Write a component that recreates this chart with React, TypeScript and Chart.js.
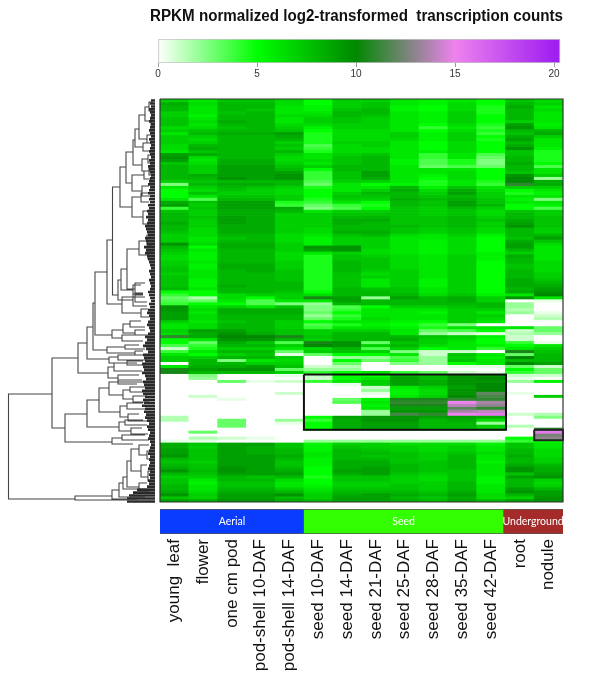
import React, { useEffect, useRef } from "react";
import { Chart, registerables } from "chart.js";

Chart.register(...registerables);

const titleText = "RPKM normalized log2-transformed  transcription counts";
const columnLabels = [
  "young  leaf", "flower", "one cm pod", "pod-shell 10-DAF", "pod-shell 14-DAF",
  "seed 10-DAF", "seed 14-DAF", "seed 21-DAF", "seed 25-DAF", "seed 28-DAF",
  "seed 35-DAF", "seed 42-DAF", "root", "nodule",
];
const groupNames = ["Aerial", "Seed", "Underground"];
const groupSpans = [5, 6.92, 2.08];
const groupColors = ["#0a3cff", "#33ff00", "#a52a2a"];
const legendTicks = [0, 5, 10, 15, 20];

const rampValues = [0, 5, 10, 15, 20];
const rampColors = [
  [255, 255, 255], [0, 255, 0], [0, 136, 0], [238, 130, 238], [160, 32, 240],
];

const heatRows: number[][] = [
  [7,6,7.5,7.5,6.5,5,7,7,6,5.5,6,5,7.5,6.5],
  [8.5,6.5,8,8,6.5,5,7,7.5,6,5.5,6.5,5,8,7],
  [8,6,8,8,6,5.5,7,7.5,5.5,5,6.5,4.5,8.5,6],
  [8,6,8,7.5,6,5.5,7.5,8,5.5,5,6.5,4.5,8,6.5],
  [7,6,7.5,8,6,6,8,8,6,5.5,7,4.5,8,6],
  [7,5.5,8,8,6.5,6.5,8,7.5,6,5.5,7,5,8,6],
  [7.5,6,8,8,6,7,7.5,7,6,5.5,7,5,8,6],
  [7.5,6.5,8.5,8,6,7,7.5,7,6,5.5,7,5,7,6],
  [7.5,6,8,8,6.5,6.5,7,7,6,5,6.5,4.5,9,5.5],
  [6.5,6.5,7.5,8,7,5.5,7,7,6,4,6,4,9.5,6],
  [7,7.5,8,8,7.5,5,6.5,6.5,6,5,6.5,4.5,8,8],
  [6,8,8.5,8.5,9,4.5,6.5,6.5,7,5.5,7,4,7.5,8.5],
  [7,7,8,8,8.5,4.5,6.5,6.5,7,5.5,7,5,8.5,7],
  [7,6.5,8,8,8,4.5,6.5,6.5,6.5,5.5,7,4.5,9,6],
  [7,7,8,8,7,4.5,7,7,6,5,6.5,5,8,6],
  [6.5,8,8,8,7.5,3.5,6.5,7,6,5,6.5,5,8.5,6],
  [6.5,8.5,8,8,7,4,6.5,6.5,6,5,6.5,5,9.5,5.5],
  [6,7.5,8,8,8,4.5,6.5,6.5,6,5.5,6.5,5,7.5,4.5],
  [9,8.5,8,8,7,6,7,7.5,6,4,6,3.5,7.5,4.5],
  [9.5,6.5,8,8,6.5,6,7.5,8,6,4,6,3,8,4.5],
  [9,6,8.5,8.5,6.5,6.5,7.5,8,5.5,3.5,4.5,2.5,8,4.5],
  [7.5,6.5,8.5,8.5,7,6,7.5,8,5.5,3.5,4.5,2.5,8.5,5],
  [8,7,9,9,7.5,7,8,8,6,3,3.5,3,8,3.5],
  [8,7,9,9,8,5,8,8,6,6,6,5,8,6],
  [8,7,9,9,9,4,7.5,9,6,6,6.5,5,7.5,6],
  [8,8.5,9,9,9.5,4,7.5,9,6,5.5,6.5,5,9.5,7],
  [8,8,9.5,9,9.5,4,7.5,8.5,6,5,6.5,5,10,2],
  [7,7.5,8,8,8,3.5,7,7,6,4.5,6,4.5,10,8.5],
  [2.5,8,8.5,8.5,8,3,6,5,5.5,4.5,6,4,11,8.5],
  [6,7,8,7.5,7,4.5,6,6,8,5.5,7.5,6,7,7],
  [5,6.5,7.5,7,6.5,5,6,7,8.5,6.5,8.5,6.5,5,6],
  [5,7.5,7,7,6.5,5,7,8,8,7,9,7,4.5,5.5],
  [5,6,7.5,7.5,7,5,7.5,7.5,8,7.5,8,7,6,6],
  [6,3.5,8,8,7,4.5,7,7,8.5,8,8.5,7.5,5.5,2.5],
  [8.5,7.5,9,9,4.5,4,6,5,8,7.5,9,7.5,6,6],
  [9,7,9,9,4,3,4,4.5,8,7.5,9,8,5,5.5],
  [4,7.5,9,9,8.5,2.5,3.5,5,7.5,7,8,7,5,3.5],
  [7.5,7,8.5,8.5,8,6,7,7,7.5,7,7.5,6.5,7.5,7],
  [8,7,8.5,8.5,7,7,7.5,7.5,7.5,7,7.5,6.5,8,7],
  [8,7.5,9,8.5,7,7,8,8,7.5,7.5,8,7,8,7.5],
  [8,7,9,8.5,7,7,8.5,8.5,7.5,7.5,8,7.5,8.5,7.5],
  [8.5,7,9,8.5,7,7,8.5,8,7.5,7.5,8,7,9,7.5],
  [8,7,8.5,8.5,7,7,8,8,8,7.5,8,7,9.5,7.5],
  [8,6.5,8.5,8.5,7,6.5,8,8,7.5,7,7.5,6.5,8,7],
  [7.5,6.5,8.5,8.5,7,6.5,8.5,8.5,7.5,7,7.5,6.5,8,7],
  [7,6.5,8,8,6.5,6,7.5,8,6.5,6,7,5.5,8,8],
  [7,6,7.5,8,6.5,5.5,7,7,6,6,6.5,5,7.5,9],
  [7,6,8,8,6.5,5.5,7,7,6,5.5,6.5,5,8.5,7.5],
  [9.5,6.5,8.5,8.5,7,5.5,7,7,6,5.5,6.5,5,9,6.5],
  [8,5,8.5,8.5,7,9.5,9.5,7,6,5.5,6.5,5,9,6],
  [7.5,6,8,8,7,9,9.5,6.5,6,5.5,6.5,5,8,6],
  [7,5.5,8,8,6.5,6,7,6.5,6,5.5,6.5,5.5,7,6],
  [6.5,5.5,8,8,6.5,4.5,7.5,7,6.5,6,7,5.5,8.5,6],
  [6.5,5.5,8,8,6.5,4.5,7.5,7.5,6.5,6,7,5.5,8,6],
  [7,6,8,8,7,4.5,8,7.5,6.5,6,7,5,8,6.5],
  [7,5.5,8.5,8.5,7,4.5,8,7.5,6.5,6,7,5,7.5,6.5],
  [7.5,5.5,8.5,8.5,7,4.5,8,7.5,6.5,6,7,5,7.5,6.5],
  [7.5,6,8,8.5,7.5,4.5,8,7,7,6,7,5,8,6.5],
  [7,6,8,8,7.5,4.5,7.5,6.5,7,6,7,5,8,7],
  [7.5,6,8,8,7.5,4.5,7.5,7,7,6,7,5,8,7],
  [7.5,5.5,8,8,7.5,4.5,7.5,6,7,5.5,7,5,8.5,7.5],
  [7.5,5.5,8,8,8,4.5,7.5,6,7,5.5,7,5,8.5,8],
  [7.5,5.5,8.5,8,8,4.5,7.5,6,7,5.5,7,5,8.5,8.5],
  [8,6,8,8,8,4.5,8,7.5,7.5,6,7,5,8,9],
  [5,5,8,8,7.5,5,8,8,7.5,6,7,5,8.5,9.5],
  [4,5,6.5,7,7,6.5,8,8,8,6.5,7.5,5.5,6,10],
  [3,1.5,6.5,5,7,10.5,9,2,9,8,8.5,7,9.5,6],
  [3.5,3,6,3.5,6,6,9,8,8,8,8.5,7,0,0.5],
  [4,5,5,3.5,2.5,2,8,8,8,8,8,8,2,0],
  [9.5,6,7,6,7.5,2.5,3.5,5,7,7,7.5,8,2,0],
  [9.5,6.5,8.5,8.5,8.5,2.5,4,6,6,6,7,7,1.5,0],
  [9,6,8.5,8.5,8.5,3,5,6,6,5.5,7,6,2,0.5],
  [9,6.5,8,8,8,2,4,6,6,6,7,7,0,1],
  [9,6.5,8,8,8,3,4.5,6.5,6,6,7,6.5,0,1.5],
  [7,6,7.5,8,7,5,6,6,5.5,5,7,6,0,0],
  [6,6.5,8,8,7,3.5,4.5,5.5,5,4,2.5,0,0,0],
  [6,6.5,8,8,7,4,6,6,5.5,4.5,6,6,6,3],
  [7,9,9,8,7.5,7,7,7,6,3,3.5,5,1,3],
  [6.5,8.5,9.5,8.5,7.5,7,8,8,6,2,1,0.5,1.5,2],
  [11,8.5,10,10,10.5,7.5,8,8,8,7.5,7,5.5,1,0],
  [5,6,9.5,9.5,8,7,8,8,8.5,7,6.5,5,1,0],
  [5,3,8.5,7.5,3.5,10.5,9.5,3,7.5,7,6,5,4,0.5],
  [3.5,4,8,8,7,10,9.5,7,8,6.5,6,5.5,5,6],
  [1,4.5,7,7,6,6.5,8,3.5,7,5,6,4,6,7],
  [4,6,8,8,3,7,7.5,7,2.5,1,1,0,10.5,7.5],
  [6,5,7,7.5,0.5,3,5,5,6,1,7.5,6,3,8],
  [7,7,8,8,7,0,2,2,3.5,2,7,5.5,10,8],
  [7,8,2.5,6,6.5,0,5,3,4,2,7.5,6,8,8],
  [0,8,8,7,7,0,3,0,2.5,2,5,6,10,9],
  [6,8.5,8.5,9,7.5,1,1.5,0,0,0,0.5,0.5,3,1],
  [10.5,9,9.5,9.5,3,2,2,0,0,0,0,0,5,3],
  [10.5,8,8,8,7,4,5,6,4,3,1,0.5,4,3],
  [0,2.5,0,0,0.5,1,5,5,8.5,8,9.5,9.5,1,1],
  [0,2,0,0,0,1,5,6,9,8,9.5,10,0.5,0],
  [0,0,3,0.5,1,4,6,7,9,8.5,9.5,9.5,2,5.5],
  [0,0,0,0,0,0,0.5,7,9,8.5,9.5,10,0,0],
  [0,0,0,0,0,0,0,1,6,7,9,10,0,0],
  [0,0,0,0,0,0,0,2,5.5,6.5,9.5,10,0,0],
  [0,0,0,0,1,0,0,0.5,5.5,6.5,9.5,12,0.5,0],
  [0,1,0,0,0,0,0,0,6,7,10,11.5,0,7],
  [0,0,0.5,0,0,0,3,5.5,10.5,10.5,11,11,0,0],
  [0,0,0,0,0,0,3.5,6,11,11,15,13.5,0,0],
  [0,0,0,0,0,0,0,5.5,10.5,10.5,14,13,0,0],
  [0,0,0,0,0,0,0,6,9,9,12,11,0,0],
  [0,0,0,0,0,0,0,2,9.5,9.5,13.5,14,0,0],
  [0,0,0,0,0,0,0,2,11.5,11,15,15.5,1,1.5],
  [1.5,0,0,0,0,5,9,9.5,9.5,9,9,8.5,0,2.5],
  [1.5,0,3,0,2,4,8.5,9.5,9.5,8,8.5,6.5,0,0],
  [0,0,3,0,0.5,5,8.5,9,9,8,8,2,0,0],
  [0,0,3,0,0,5,8.5,9,9,8,8,7,1.5,0],
  [0,0,0,0,0,5,8.5,9,9,8,8,7,0,11],
  [0,3,0,0,0,0,0,0,0,0,0,0,0,15.5],
  [0,0,0,0,0,0,0,0,0,0,0,0,0,12.5],
  [0,1.5,1,0.5,0,0,0,0,0,0,0,0,5,13],
  [0.5,0.5,0,0,0,2,2,2,2,2,2,2,4,5],
  [8.5,7.5,9,9,7.5,5.5,7,7,6.5,6.5,6.5,5.5,7.5,6],
  [8.5,7,9,8.5,7.5,5.5,7.5,7,7,6.5,7,6,7.5,6],
  [9,7.5,9,8.5,8,5.5,8,7.5,7,6.5,7,6,8,6.5],
  [9,7.5,9,8.5,8,6,8,8,7.5,7,7.5,6.5,8,6.5],
  [9.5,7.5,9,9,8.5,6,8,7.5,7.5,7,8,6,8.5,6.5],
  [8,7.5,9,9,8,5.5,8,8,7.5,7,8,6,8,7],
  [7.5,7,9,9,7.5,5.5,8.5,8.5,7.5,7.5,8,5.5,8,7],
  [8,7.5,9,9,7.5,5.5,8.5,8.5,8,7.5,8,6,8.5,8],
  [8.5,7.5,9.5,9,8,5,8.5,9,8,7.5,8,6,9.5,8.5],
  [9.5,8,9.5,9,8.5,5,9,9,8,7.5,7.5,6,9.5,8.5],
  [8,7.5,9,9,9,5,8.5,9,7.5,7,7.5,6,7.5,9],
  [7,7,8,7.5,8,4.5,7.5,7.5,7,6.5,7.5,5.5,9,9.5],
  [7.5,6,8,8,6.5,5,7.5,7.5,7,6.5,7.5,5.5,8,7],
  [7.5,5.5,7.5,7.5,6,5,7,7,7,7,8,5.5,8,6.5],
  [8,6,7.5,7.5,6,5.5,7,7,7.5,7,8,6,8,7],
  [8,6,8,8,7,6,7.5,7.5,7.5,7,8,6,9,8],
  [8.5,6.5,8.5,8.5,8,6.5,8,8,8,7.5,8.5,6,9.5,9],
  [9.5,7,9,9,9.5,7,8.5,9,8.5,8,9,6.5,8,9],
  [7.5,7,9,9,8,7,9,9,8,7.5,8.5,6.5,7,9.5],
  [9,8.5,9.5,9.5,8.5,8,9,9,8.5,8,9,8,9,9.5],
];

// rectangles outlined on the heatmap, in column / row units: [left, right, top, bottom]
const heatFrame = [0, 14, 0, 135];
const seedBox = [5, 12.02, 92.3, 110.8];
const noduleBox = [13, 14, 110.8, 114.3];

// dendrogram merges: [height, topLeaf, bottomLeaf, topChildHeight, bottomChildHeight]
const dendroMerges: number[][] = [
  [148.5,295,400,105,82],
  [105,259,329,79,92],
  [92,315,343,70,45],
  [70,301,328,58,38],
  [58,289,313,48,37],
  [48,283,296,39,34],
  [39,281,285,15,20],
  [34,291,300,27,24],
  [27,288,293,12,14],
  [24,297,303,10,8],
  [37,307,318,30,29],
  [30,304,310,14,12],
  [29,315,322,18,8],
  [38,323,332,32,26],
  [32,321,326,14,10],
  [26,329,335,15,9],
  [45,339,345,35,24],
  [35,336,341,12,8],
  [79,244,274,70,49],
  [49,268,279,43,39],
  [43,264,272,20,15],
  [39,276,283,18,9],
  [70,228,260,64,48],
  [48,258,264,39,30],
  [39,256,261,16,10],
  [30,262,266,14,12],
  [64,204,251,62,50],
  [50,248,254,32,22],
  [32,246,250,18,12],
  [22,252,256,14,10],
  [62,173,236,50,45],
  [45,231,239,34,35],
  [34,225,234,27,22],
  [27,222,228,16,12],
  [22,231,236,12,9],
  [35,236,242,18,14],
  [50,141,205,44.5,35],
  [35,198,214,22,16],
  [22,194,203,14,10],
  [16,210,218,9,8],
  [44.5,88,196,37,39],
  [37,68,108,31,25],
  [31,53,84,24,25],
  [24,41,66,22,15],
  [22,30,48,18,14],
  [18,16,40,12,10],
  [12,8,22,8,6],
  [8,3,12,4,4],
  [6,18,26,4,3],
  [10,36,44,6,5],
  [14,44,52,7,6],
  [15,60,72,9,8],
  [9,56,64,4,5],
  [8,68,76,4,4],
  [25,76,92,13,15],
  [13,72,80,6,5],
  [15,87,97,8,7],
  [25,98,118,16,14],
  [16,94,103,7,8],
  [14,112,125,8,8],
  [39,181,201,36,24],
  [36,170,191,30,24],
  [30,150,190,18,22],
  [18,142,156,10,9],
  [10,136,146,6,5],
  [9,152,160,4,5],
  [22,184,196,12,14],
  [24,186,198,16,12],
  [24,195,207,14,10],
  [82,397,401,45,30],
  [45,391,400,38,20],
  [38,384,398,34,12],
  [34,378,390,30,20],
  [30,362,388,26,18],
  [26,350,372,18,16],
  [18,346,356,8,10],
  [10,352,360,5,6],
  [16,366,378,10,9],
  [9,372,382,5,4],
  [18,384,392,10,8],
];

// how far each leaf reaches from the heatmap edge, one per row
const leafReach = [
  6,7,6,8,7,6,7,8,6,7,8,7,6,8,7,6,7,8,7,6,
  8,7,9,8,7,6,7,8,9,7,8,9,7,8,7,9,8,10,9,11,
  9,10,12,11,10,9,12,11,10,13,11,12,10,9,8,7,6,8,7,6,
  8,7,6,7,9,8,7,6,8,7,9,10,8,7,9,10,8,7,9,12,
  10,12,14,11,9,14,13,12,15,14,13,15,12,11,14,13,12,15,14,12,
  14,13,15,12,13,11,12,10,8,10,9,7,8,9,7,6,7,8,9,7,
  8,7,8,9,7,8,7,9,8,10,20,24,28,30,30,
];

const legendStart = -0.404;
const legendBarEnd = 20.3;
const legendEnd = 20.45;

function valueColor(v: number): string {
  for (let i = 1; i < rampValues.length; i++) {
    if (v <= rampValues[i]) {
      const t = (v - rampValues[i - 1]) / (rampValues[i] - rampValues[i - 1]);
      const c = rampColors[i].map((hi, k) => Math.round(rampColors[i - 1][k] + (hi - rampColors[i - 1][k]) * t));
      return `rgb(${c[0]},${c[1]},${c[2]})`;
    }
  }
  const l = rampColors[rampColors.length - 1];
  return `rgb(${l[0]},${l[1]},${l[2]})`;
}

function outline(b: number[]) {
  return [
    { x: b[0], y: b[2] }, { x: b[1], y: b[2] }, { x: b[1], y: b[3] },
    { x: b[0], y: b[3] }, { x: b[0], y: b[2] },
  ];
}

const FONT = "'Liberation Sans', Arial, sans-serif";

function canvasStyle(left: number, top: number): React.CSSProperties {
  return { position: "absolute", left, top, display: "block" };
}

const App = () => {
  const legendRef = useRef<HTMLCanvasElement>(null);
  const dendroRef = useRef<HTMLCanvasElement>(null);
  const heatRef = useRef<HTMLCanvasElement>(null);
  const boxRef = useRef<HTMLCanvasElement>(null);
  const groupRef = useRef<HTMLCanvasElement>(null);

  useEffect(() => {
    const charts: Chart[] = [];

    charts.push(new Chart(legendRef.current!, {
      type: "bar",
      data: {
        labels: ["scale"],
        datasets: [{
          data: [[0, legendBarEnd]],
          borderColor: "#c4c4c4",
          borderWidth: 1,
          borderSkipped: false,
          barPercentage: 1,
          categoryPercentage: 1,
          backgroundColor: (ctx: any) => {
            const { chart } = ctx;
            if (!chart.chartArea) return "#00ff00";
            const sx = chart.scales.x;
            const g = chart.ctx.createLinearGradient(sx.getPixelForValue(0), 0, sx.getPixelForValue(legendBarEnd), 0);
            rampValues.forEach((v) => g.addColorStop(v / legendBarEnd, valueColor(v)));
            g.addColorStop(1, valueColor(20));
            return g;
          },
        }],
      } as any,
      options: {
        animation: false,
        responsive: false,
        indexAxis: "y",
        layout: { padding: 0 },
        scales: {
          x: {
            type: "linear", min: legendStart, max: legendEnd, bounds: "data",
            border: { display: false },
            grid: { drawOnChartArea: false, tickLength: 4, color: "#999" },
            afterBuildTicks: (s: any) => { s.ticks = legendTicks.map((value) => ({ value })); },
            ticks: { padding: 1, color: "#333", font: { family: FONT, size: 10 }, maxRotation: 0 },
            afterFit: (s: any) => { s.height = 22; s.paddingLeft = 0; s.paddingRight = 0; },
          },
          y: { display: false },
        },
        plugins: {
          legend: { display: false },
          tooltip: { enabled: false },
          title: {
            display: true, text: titleText, color: "#111",
            font: { family: FONT, size: 15.6, weight: "bold" },
            padding: { top: 7, bottom: 13.3 },
          },
        },
      } as any,
    }));

    const dendroPoints: any[] = [];
    dendroMerges.forEach(([h, top, bot, ht, hb]) => {
      dendroPoints.push({ x: ht, y: top }, { x: h, y: top }, { x: h, y: bot }, { x: hb, y: bot }, { x: NaN, y: NaN });
    });
    const leafPoints: any[] = [];
    leafReach.forEach((reach, i) => {
      const p = (i + 0.5) * (404 / leafReach.length);
      leafPoints.push({ x: 2, y: p }, { x: reach, y: p }, { x: NaN, y: NaN });
    });

    charts.push(new Chart(dendroRef.current!, {
      type: "scatter",
      data: {
        datasets: [
          { data: leafPoints, showLine: true, pointRadius: 0, borderColor: "#2a2a2a", borderWidth: 2.7 },
          { data: dendroPoints, showLine: true, pointRadius: 0, borderColor: "#454545", borderWidth: 1.1 },
        ],
      },
      options: {
        animation: false,
        responsive: false,
        layout: { padding: 0 },
        scales: {
          x: { type: "linear", reverse: true, min: 2, max: 157, display: false },
          y: { type: "linear", reverse: true, min: 0, max: 404, display: false },
        },
        plugins: { legend: { display: false }, tooltip: { enabled: false } },
      } as any,
    }));

    charts.push(new Chart(heatRef.current!, {
      type: "bar",
      data: {
        labels: columnLabels,
        datasets: heatRows.map((row) => ({
          data: row.map(() => 1),
          backgroundColor: row.map(valueColor),
          barPercentage: 1,
          categoryPercentage: 1,
          borderWidth: 0,
        })),
      },
      options: {
        animation: false,
        responsive: false,
        layout: { padding: 0 },
        scales: {
          x: { type: "category", stacked: true, display: false },
          y: { type: "linear", stacked: true, reverse: true, min: 0, max: heatRows.length, display: false },
        },
        plugins: { legend: { display: false }, tooltip: { enabled: false } },
      } as any,
    }));

    const boxDataset = (b: number[], color: string, width: number) => ({
      data: outline(b),
      showLine: true,
      pointRadius: 0,
      borderColor: color,
      borderWidth: width,
      clip: false,
    });
    charts.push(new Chart(boxRef.current!, {
      type: "scatter",
      data: {
        datasets: [
          boxDataset(heatFrame, "#333", 1.2),
          boxDataset(seedBox, "#111", 2),
          boxDataset(noduleBox, "#222", 2),
        ],
      },
      options: {
        animation: false,
        responsive: false,
        layout: { padding: 2 },
        scales: {
          x: { type: "linear", min: 0, max: 14, display: false },
          y: { type: "linear", reverse: true, min: 0, max: heatRows.length, display: false },
        },
        plugins: { legend: { display: false }, tooltip: { enabled: false } },
      } as any,
    }));

    const groupLabelPlugin = {
      id: "groupLabels",
      afterDatasetsDraw(chart: any) {
        const { ctx } = chart;
        ctx.save();
        ctx.fillStyle = "#fff";
        ctx.font = "10.5px Lato, sans-serif";
        ctx.textAlign = "center";
        ctx.textBaseline = "middle";
        chart.data.datasets.forEach((ds: any, i: number) => {
          const el = chart.getDatasetMeta(i).data[0];
          ctx.fillText(ds.label, (el.x + el.base) / 2, el.y);
        });
        ctx.restore();
      },
    };

    charts.push(new Chart(groupRef.current!, {
      type: "bar",
      data: {
        labels: ["groups"],
        datasets: groupNames.map((name, i) => ({
          label: name,
          data: [groupSpans[i]],
          backgroundColor: groupColors[i],
          borderColor: "#555",
          borderWidth: { top: 1, bottom: 1, left: 0, right: 0 },
          borderSkipped: false,
          barPercentage: 1,
          categoryPercentage: 1,
          xAxisID: "xGroup",
        })),
      },
      options: {
        animation: false,
        responsive: false,
        indexAxis: "y",
        layout: { padding: 0 },
        scales: {
          xGroup: { type: "linear", stacked: true, min: 0, max: 14, display: false },
          x: {
            type: "category", labels: columnLabels, offset: true, position: "bottom",
            border: { display: false },
            grid: { display: false, drawTicks: false, tickLength: 0 },
            ticks: {
              autoSkip: false, minRotation: 90, maxRotation: 90, padding: 5,
              color: "#111", font: { family: FONT, size: 17 },
            },
            afterFit: (s: any) => { s.height = 148; s.paddingLeft = 0; s.paddingRight = 0; },
          },
          y: { stacked: true, display: false },
        },
        plugins: { legend: { display: false }, tooltip: { enabled: false } },
      } as any,
      plugins: [groupLabelPlugin],
    }));

    return () => charts.forEach((c) => c.destroy());
  }, []);

  return (
    <div style={{ position: "fixed", left: 0, top: 0, width: 600, height: 682, background: "#fff", overflow: "hidden" }}>
      <canvas ref={legendRef} width={413} height={85} style={canvasStyle(150, 0)} />
      <canvas ref={dendroRef} width={155} height={404} style={canvasStyle(0, 99)} />
      <canvas ref={heatRef} width={403} height={403} style={canvasStyle(160, 99)} />
      <canvas ref={boxRef} width={407} height={407} style={canvasStyle(158, 97)} />
      <canvas ref={groupRef} width={403} height={173} style={canvasStyle(160, 509)} />
    </div>
  );
};

export default App;
